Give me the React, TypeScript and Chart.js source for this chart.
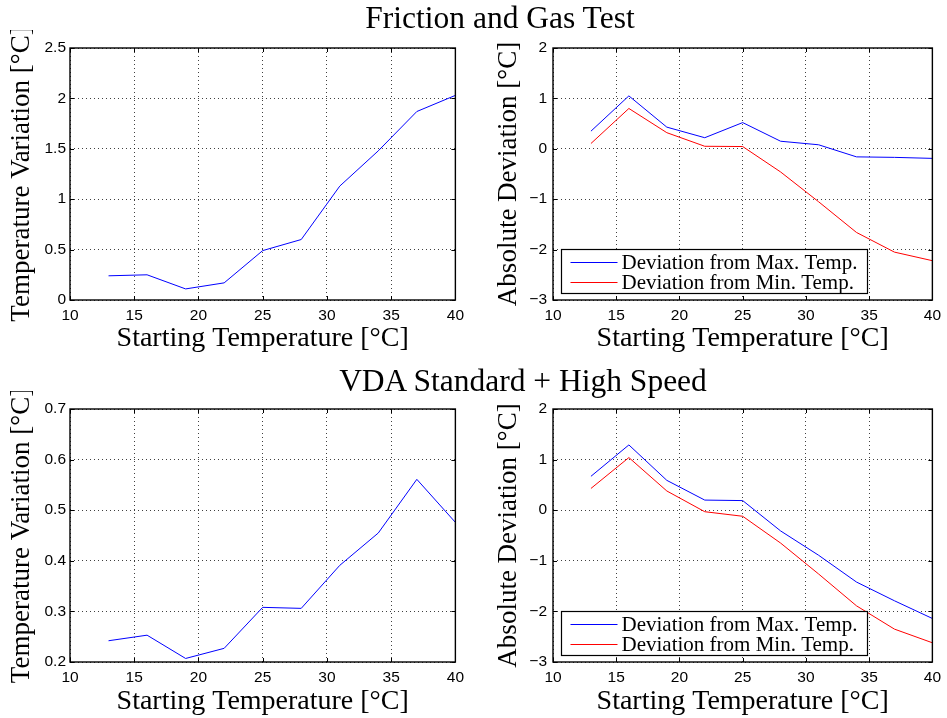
import React, { useEffect, useRef } from "react";
import { Chart, registerables } from "chart.js";

Chart.register(...registerables);

// ---------- data ----------
const startTemps = [13, 16, 19, 22, 25, 28, 31, 34, 37, 40];
const frictionVariation = [0.24, 0.25, 0.11, 0.17, 0.49, 0.6, 1.13, 1.48, 1.87, 2.03];
const frictionDevMax = [0.35, 1.05, 0.43, 0.22, 0.52, 0.15, 0.08, -0.16, -0.17, -0.19];
const frictionDevMin = [0.105, 0.8, 0.32, 0.05, 0.045, -0.46, -1.05, -1.66, -2.05, -2.22];
const vdaVariation = [0.242, 0.253, 0.207, 0.227, 0.308, 0.306, 0.391, 0.455, 0.561, 0.476];
const vdaDevMax = [0.67, 1.29, 0.59, 0.2, 0.19, -0.41, -0.89, -1.42, -1.79, -2.14];
const vdaDevMin = [0.43, 1.04, 0.38, -0.03, -0.12, -0.65, -1.26, -1.89, -2.35, -2.62];

const titleTop = "Friction and Gas Test";
const titleBottom = "VDA Standard + High Speed";
const xTitle = "Starting Temperature [\u00B0C]";
const yTitleVariation = "Temperature Variation [\u00B0C]";
const yTitleDeviation = "Absolute Deviation [\u00B0C]";
const legendMax = "Deviation from Max. Temp.";
const legendMin = "Deviation from Min. Temp.";

const xRange = [10, 40, 5];
const yRangeFrictionVar = [0, 2.5, 0.5];
const yRangeVdaVar = [0.2, 0.7, 0.1];
const yRangeDev = [-3, 2, 1];

const BLUE = "#0000ff";
const RED = "#ff0000";
const SERIF = "'Liberation Serif', 'Times New Roman', serif";
const SANS = "'Liberation Sans', Arial, sans-serif";

type Series = { label: string; values: number[]; color: string };
type Panel = {
  left: number;
  top: number;
  width: number;
  height: number;
  yWidth: number;
  xHeight: number;
  padTop: number;
  padRight: number;
  yTitle: string;
  yTitlePad: number;
  yTickPad: number;
  xTitlePad: number;
  yRange: number[];
  series: Series[];
  legend: boolean;
};

const fmt = (v: number | string) => {
  const n = Math.round(Number(v) * 1000) / 1000;
  return String(n).replace("-", "\u2212");
};

const framePlugin = {
  id: "matlabFrame",
  afterDraw(chart: any) {
    const { ctx, chartArea } = chart;
    const { left, top, right, bottom } = chartArea;
    const xs = chart.scales.x;
    const ys = chart.scales.y;
    ctx.save();
    ctx.strokeStyle = "#000";
    ctx.lineWidth = 1;
    const tl = 4;
    ctx.beginPath();
    xs.ticks.forEach((t: any) => {
      const px = Math.round(xs.getPixelForValue(t.value)) + 0.5;
      ctx.moveTo(px, bottom);
      ctx.lineTo(px, bottom - tl);
      ctx.moveTo(px, top);
      ctx.lineTo(px, top + tl);
    });
    ys.ticks.forEach((t: any) => {
      const py = Math.round(ys.getPixelForValue(t.value)) + 0.5;
      ctx.moveTo(left, py);
      ctx.lineTo(left + tl, py);
      ctx.moveTo(right, py);
      ctx.lineTo(right - tl, py);
    });
    ctx.stroke();
    ctx.lineWidth = 1.4;
    ctx.strokeRect(left, top, right - left, bottom - top);

    if (chart.options.plugins.boxLegend?.display) {
      const bx = Math.round(left + 8) + 0.5;
      const bw = 306;
      const bh = 44;
      const by = Math.round(bottom - 7 - bh) + 0.5;
      ctx.fillStyle = "#fff";
      ctx.fillRect(bx, by, bw, bh);
      ctx.lineWidth = 1.2;
      ctx.strokeStyle = "#000";
      ctx.strokeRect(bx, by, bw, bh);
      ctx.font = `21px ${SERIF}`;
      ctx.textBaseline = "middle";
      ctx.textAlign = "left";
      chart.data.datasets.forEach((ds: any, i: number) => {
        const cy = Math.round(by + 12 + i * 20) + 0.5;
        ctx.strokeStyle = ds.borderColor;
        ctx.lineWidth = 1.2;
        ctx.beginPath();
        ctx.moveTo(bx + 9, cy);
        ctx.lineTo(bx + 56, cy);
        ctx.stroke();
        ctx.fillStyle = "#000";
        ctx.fillText(ds.label, bx + 60, cy + 1);
      });
    }
    ctx.restore();
  },
};

function ChartPanel({ p }: { p: Panel }) {
  const ref = useRef<HTMLCanvasElement | null>(null);
  useEffect(() => {
    if (!ref.current) return;
    const chart = new Chart(ref.current, {
      type: "line",
      data: {
        datasets: p.series.map((s) => ({
          label: s.label,
          data: startTemps.map((x, i) => ({ x, y: s.values[i] })),
          borderColor: s.color,
          backgroundColor: s.color,
          borderWidth: 1,
          pointRadius: 0,
          tension: 0,
          fill: false,
        })),
      },
      options: {
        animation: false,
        responsive: false,
        events: [],
        layout: { padding: { top: p.padTop, right: p.padRight, left: 0, bottom: 0 } },
        plugins: {
          legend: { display: false },
          tooltip: { enabled: false },
          boxLegend: { display: p.legend },
        } as any,
        scales: {
          x: {
            type: "linear",
            min: xRange[0],
            max: xRange[1],
            afterFit: (s: any) => {
              s.height = p.xHeight;
            },
            ticks: {
              stepSize: xRange[2],
              color: "#000",
              font: { family: SANS, size: 15.5 },
              padding: 6,
              maxRotation: 0,
              callback: (v: any) => fmt(v),
            },
            grid: { color: "rgba(0,0,0,0.75)", lineWidth: 1, drawTicks: false },
            border: { display: false, dash: [1, 3] },
            title: {
              display: true,
              text: xTitle,
              color: "#000",
              font: { family: SERIF, size: 28, lineHeight: 1.2 },
              padding: { top: 0, bottom: p.xTitlePad },
            },
          },
          y: {
            type: "linear",
            min: p.yRange[0],
            max: p.yRange[1],
            afterFit: (s: any) => {
              s.width = p.yWidth;
            },
            ticks: {
              stepSize: p.yRange[2],
              color: "#000",
              font: { family: SANS, size: 15.5 },
              padding: p.yTickPad,
              callback: (v: any) => fmt(v),
            },
            grid: { color: "rgba(0,0,0,0.75)", lineWidth: 1, drawTicks: false },
            border: { display: false, dash: [1, 3] },
            title: {
              display: true,
              text: p.yTitle,
              color: "#000",
              font: { family: SERIF, size: 27, lineHeight: 1.2 },
              padding: { top: p.yTitlePad, bottom: 0 },
            },
          },
        },
      } as any,
      plugins: [framePlugin],
    });
    return () => chart.destroy();
  }, [p]);
  return (
    <canvas
      ref={ref}
      width={p.width}
      height={p.height}
      style={{ position: "absolute", left: p.left, top: p.top, width: p.width, height: p.height }}
    />
  );
}

const panels: Panel[] = [
  {
    left: 0, top: 30, width: 470, height: 335, yWidth: 70, xHeight: 65, padTop: 18, padRight: 14,
    yTitle: yTitleVariation, yTitlePad: 6, yTickPad: 4, xTitlePad: 10, yRange: yRangeFrictionVar,
    series: [{ label: "Variation", values: frictionVariation, color: BLUE }], legend: false,
  },
  {
    left: 476, top: 30, width: 471, height: 335, yWidth: 77, xHeight: 65, padTop: 18, padRight: 8,
    yTitle: yTitleDeviation, yTitlePad: 17, yTickPad: 6, xTitlePad: 10, yRange: yRangeDev,
    series: [
      { label: legendMax, values: frictionDevMax, color: BLUE },
      { label: legendMin, values: frictionDevMin, color: RED },
    ],
    legend: true,
  },
  {
    left: 0, top: 391, width: 470, height: 327, yWidth: 70, xHeight: 56, padTop: 18, padRight: 14,
    yTitle: yTitleVariation, yTitlePad: 6, yTickPad: 4, xTitlePad: 0, yRange: yRangeVdaVar,
    series: [{ label: "Variation", values: vdaVariation, color: BLUE }], legend: false,
  },
  {
    left: 476, top: 391, width: 471, height: 327, yWidth: 77, xHeight: 56, padTop: 18, padRight: 8,
    yTitle: yTitleDeviation, yTitlePad: 17, yTickPad: 6, xTitlePad: 0, yRange: yRangeDev,
    series: [
      { label: legendMax, values: vdaDevMax, color: BLUE },
      { label: legendMin, values: vdaDevMin, color: RED },
    ],
    legend: true,
  },
];

const titleStyle = (cx: number, top: number): React.CSSProperties => ({
  position: "absolute",
  left: cx - 400,
  width: 800,
  top,
  textAlign: "center",
  fontFamily: SERIF,
  fontSize: 31.5,
  lineHeight: "34px",
  color: "#000",
  whiteSpace: "nowrap",
});

export default function App() {
  return (
    <div
      style={{
        position: "fixed",
        left: 0,
        top: 0,
        width: 947,
        height: 718,
        overflow: "hidden",
        background: "#fff",
      }}
    >
      {panels.map((p, i) => (
        <ChartPanel key={i} p={p} />
      ))}
      <div style={titleStyle(500, 1)}>{titleTop}</div>
      <div style={titleStyle(523, 364)}>{titleBottom}</div>
    </div>
  );
}
